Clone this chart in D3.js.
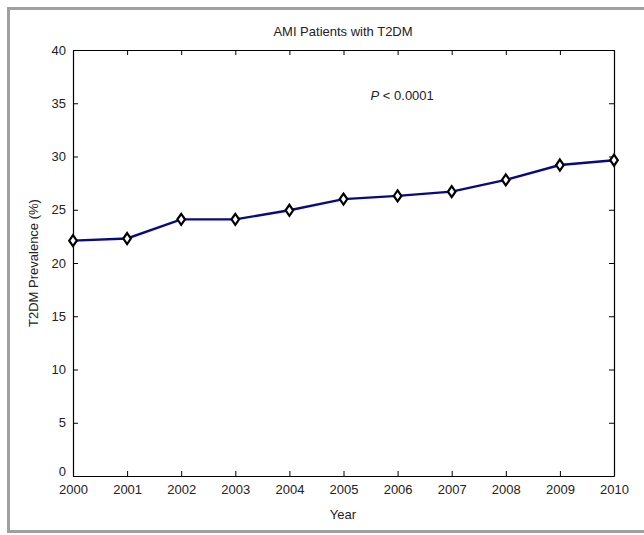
<!DOCTYPE html>
<html>
<head>
<meta charset="utf-8">
<script src="https://cdn.jsdelivr.net/npm/d3@7"></script>
<style>
  body { margin: 0; background: #fff; }
  svg { display: block; font-family: "Liberation Sans", Arial, sans-serif; }
</style>
</head>
<body>
<svg id="chart" width="644" height="535"></svg>
<script>
// data
const years = [2000, 2001, 2002, 2003, 2004, 2005, 2006, 2007, 2008, 2009, 2010];
const prevalence = [22.1, 22.3, 24.1, 24.1, 24.95, 26.0, 26.3, 26.7, 27.8, 29.2, 29.65];
const y_ticks = [0, 5, 10, 15, 20, 25, 30, 35, 40];

const margin = {top: 50, right: 30, bottom: 59, left: 73};
const width = 644 - margin.left - margin.right;
const height = 535 - margin.top - margin.bottom;

const svg = d3.select('#chart');

// gray outer frame (right edge falls outside the picture)
svg.append('path')
    .attr('d', 'M660,8.5 H8.5 V531.5 H660')
    .attr('fill', 'none')
    .attr('stroke', '#a0a0a0')
    .attr('stroke-width', 3);

const g = svg.append('g')
    .attr('transform', `translate(${margin.left},${margin.top})`);

const xscale = d3.scaleLinear().domain([2000, 2010]).range([0, width]);
const yscale = d3.scaleLinear().domain([0, 40]).range([height, 0]);

// bottom axis, ticks pointing in
const xaxis = g.append('g')
    .attr('transform', `translate(0,${height})`)
    .call(d3.axisBottom(xscale).tickValues(years).tickFormat(d3.format('d'))
        .tickSizeInner(-5).tickSizeOuter(0).tickPadding(9));
// top
const xaxis_top = g.append('g')
    .call(d3.axisTop(xscale).tickValues(years).tickFormat('')
        .tickSizeInner(-5).tickSizeOuter(0));
// left
const yaxis = g.append('g')
    .call(d3.axisLeft(yscale).tickValues(y_ticks)
        .tickSizeInner(-5).tickSizeOuter(0).tickPadding(7));
// right
const yaxis_r = g.append('g')
    .attr('transform', `translate(${width},0)`)
    .call(d3.axisRight(yscale).tickValues(y_ticks).tickFormat('')
        .tickSizeInner(-5).tickSizeOuter(0));

[xaxis, xaxis_top, yaxis, yaxis_r].forEach(a => {
    a.select('.domain').attr('stroke', '#000').attr('stroke-width', 1.2);
    a.selectAll('.tick line').attr('stroke', '#000');
    a.selectAll('.tick text')
        .attr('font-size', 13)
        .attr('font-family', '"Liberation Sans", Arial, sans-serif')
        .attr('fill', '#222');
});

// lift the "0" label a little so it clears "2000"
yaxis.selectAll('.tick text')
    .filter(d => d === 0)
    .attr('dy', '-0.05em');

// the series line
const makeline = d3.line()
    .x((d, i) => xscale(years[i]))
    .y(d => yscale(d));

g.append('path')
    .datum(prevalence)
    .attr('fill', 'none')
    .attr('stroke', '#0a0a80')
    .attr('stroke-width', 2.4)
    .attr('d', makeline);

// open diamond markers
g.selectAll('.marker')
    .data(prevalence)
    .join('path')
    .attr('class', 'marker')
    .attr('transform', (d, i) => `translate(${xscale(years[i])},${yscale(d)})`)
    .attr('d', 'M0,-5.5 L3.8,0 L0,5.5 L-3.8,0 Z')
    .attr('fill', '#fff')
    .attr('stroke', '#000')
    .attr('stroke-width', 2.2);

// title
svg.append('text')
    .attr('x', 343)
    .attr('y', 36)
    .attr('text-anchor', 'middle')
    .attr('font-size', 13)
    .attr('fill', '#222')
    .text('AMI Patients with T2DM');

// axis labels
svg.append('text')
    .attr('x', 343)
    .attr('y', 519)
    .attr('text-anchor', 'middle')
    .attr('font-size', 13)
    .attr('fill', '#222')
    .text('Year');

svg.append('text')
    .attr('transform', `translate(38,${margin.top + height / 2}) rotate(-90)`)
    .attr('text-anchor', 'middle')
    .attr('font-size', 13)
    .attr('fill', '#222')
    .text('T2DM Prevalence (%)');

// p value note
const ptext = g.append('text')
    .attr('x', xscale(2005.5))
    .attr('y', yscale(35.3))
    .attr('font-size', 13)
    .attr('fill', '#222');
ptext.append('tspan').attr('font-style', 'italic').text('P');
ptext.append('tspan').text(' < 0.0001');
</script>
</body>
</html>
